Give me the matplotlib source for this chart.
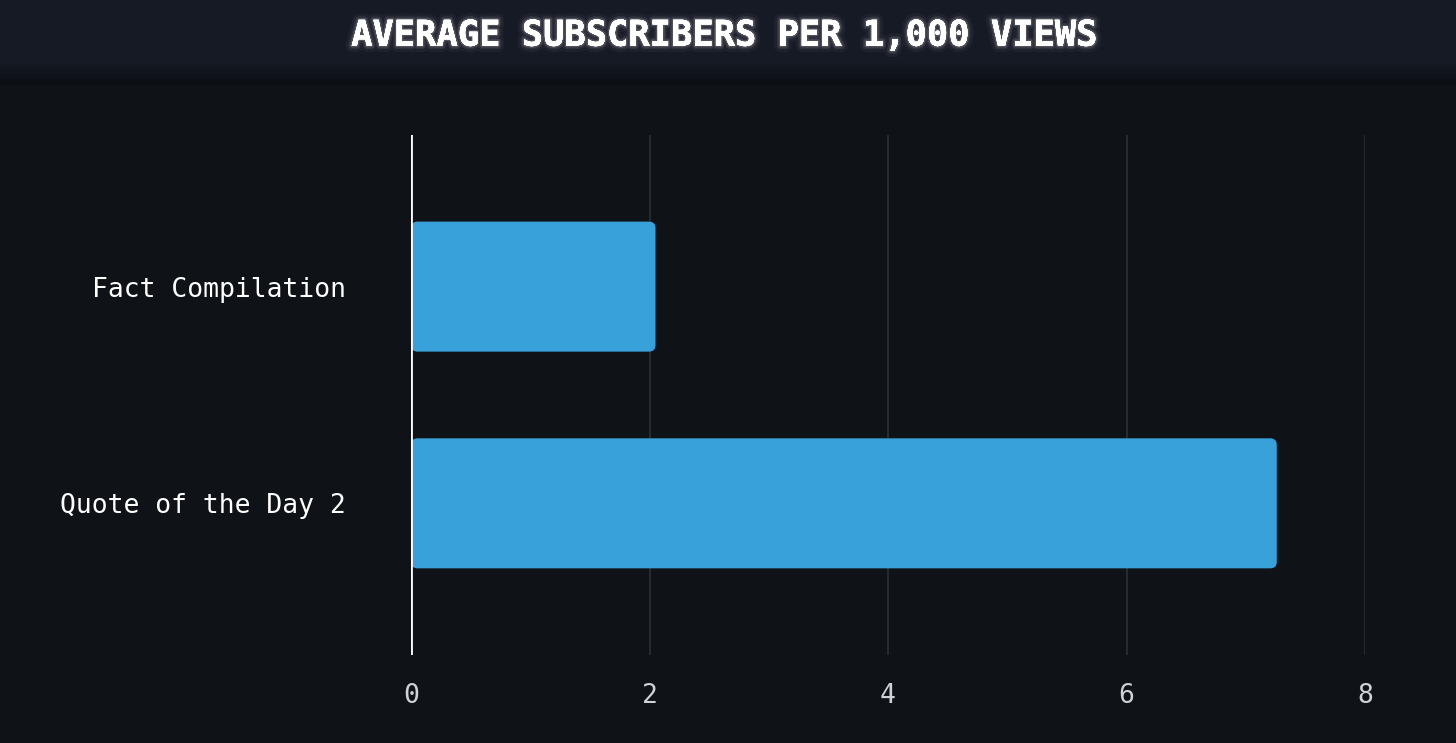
import matplotlib
matplotlib.use("Agg")
import matplotlib.pyplot as plt
import matplotlib.patheffects as pe
from matplotlib.patches import FancyBboxPatch, Rectangle

# data
categories = ["Fact Compilation", "Quote of the Day 2"]
values = [2.05, 7.26]
xticks = [0, 2, 4, 6, 8]

bg = "#0f1318"
bar_color = "#38a1d9"
font = "DejaVu Sans Mono"

fig = plt.figure(figsize=(14.56, 7.43), dpi=100, facecolor=bg)

# title band at the top, with a dark shadow strip under it
fig.patches.append(Rectangle((0, 0.895), 1, 0.105, transform=fig.transFigure,
                             facecolor="#161a25", edgecolor="none", zorder=0))
for i, a in enumerate([0.15, 0.3, 0.45, 0.6]):
    fig.patches.append(Rectangle((0, 0.895 + 0.005 * (3 - i)), 1, 0.005,
                                 transform=fig.transFigure, facecolor="#0b0e13",
                                 alpha=a, edgecolor="none", zorder=0))
fig.patches.append(Rectangle((0, 0.885), 1, 0.010, transform=fig.transFigure,
                             facecolor="#0b0e13", alpha=0.6, edgecolor="none", zorder=0))

ax = fig.add_axes([0.2823, 0.1184, 0.6552, 0.700])
ax.set_facecolor(bg)

ypos = list(range(len(categories)))
bars = ax.barh(ypos, values, height=0.6, color=bar_color)
# swap plain bars for ones with rounded corners
for b in bars:
    b.set_visible(False)
    ax.add_patch(FancyBboxPatch((b.get_x(), b.get_y()), b.get_width(), b.get_height(),
                                boxstyle="round,pad=0,rounding_size=0.055",
                                mutation_aspect=0.55, facecolor=bar_color,
                                edgecolor="none", zorder=3))

ax.set_xlim(0, 8)
ax.set_ylim(1.7, -0.7)
ax.set_xticks(xticks)
ax.set_yticks(ypos)
ax.set_yticklabels(categories)

for x in xticks[1:]:
    ax.axvline(x, color="#262a31", lw=1.5, zorder=1)
ax.axvline(0, color="white", lw=2, zorder=4)

for s in ax.spines.values():
    s.set_visible(False)
ax.tick_params(axis="both", length=0)
ax.tick_params(axis="x", pad=20, labelsize=19, labelcolor="#cfd2d6")
ax.tick_params(axis="y", pad=47, labelsize=19, labelcolor="white")
for lab in ax.get_xticklabels() + ax.get_yticklabels():
    lab.set_fontfamily(font)

glow = [pe.withStroke(linewidth=9, foreground=(1, 1, 1, 0.04)),
        pe.withStroke(linewidth=5, foreground=(1, 1, 1, 0.08)),
        pe.withStroke(linewidth=2.5, foreground=(1, 1, 1, 0.15)),
        pe.Normal()]
fig.text(0.4966, 0.952, "AVERAGE SUBSCRIBERS PER 1,000 VIEWS", ha="center", va="center",
         fontsize=25.5, fontweight="bold", color="white", family=font, path_effects=glow)

fig.savefig("out.png", dpi=100, facecolor=bg)
